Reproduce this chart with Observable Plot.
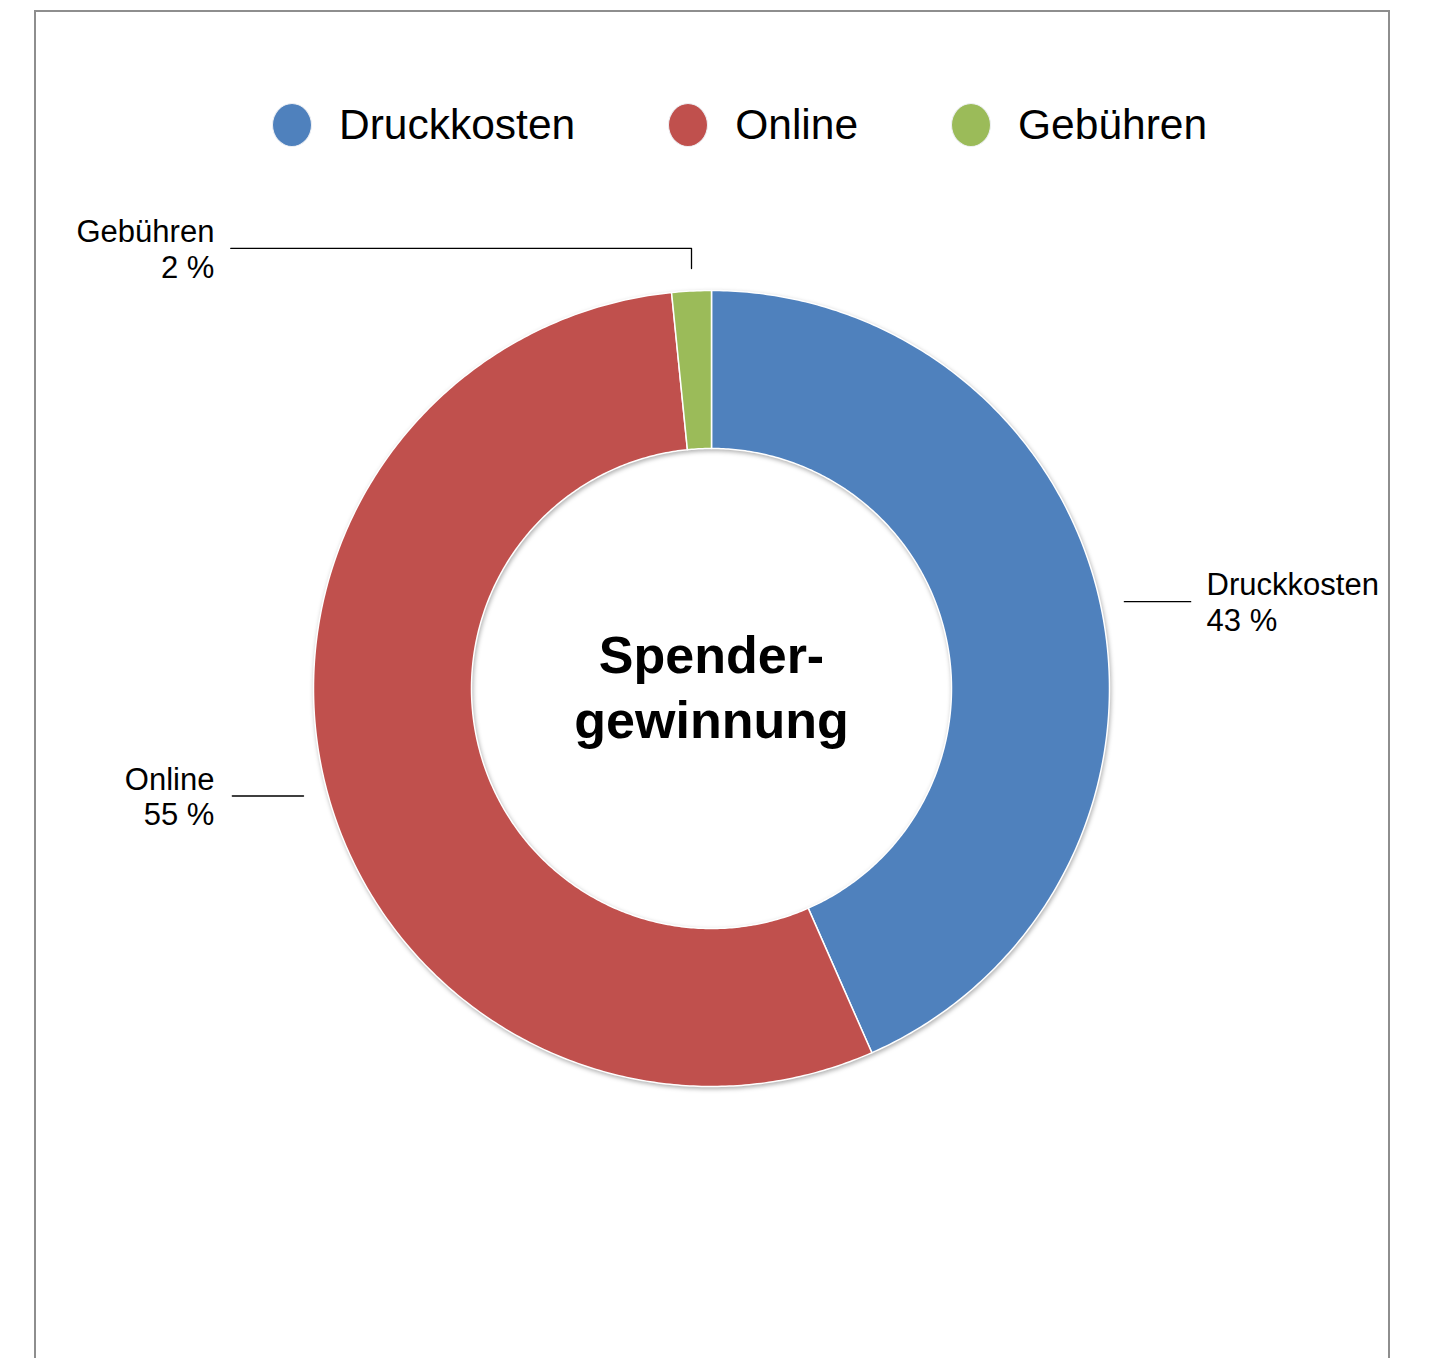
<!DOCTYPE html>
<html>
<head>
<meta charset="utf-8">
<script src="https://cdn.jsdelivr.net/npm/d3@7"></script>
<script src="https://cdn.jsdelivr.net/npm/@observablehq/plot@0.6"></script>
<style>
  body { margin: 0; background: #fff; font-family: "Liberation Sans", Arial, Helvetica, sans-serif; }
  #page { position: relative; width: 1430px; height: 1358px; overflow: hidden; }
  #frame { position: absolute; left: 34px; top: 10px; width: 1356px; height: 1420px; border: 2px solid #8e8e8e; box-sizing: border-box; }
  #chart { position: absolute; left: 0; top: 0; }
  #legend { position: absolute; left: 272px; top: 100px; display: flex; align-items: center; }
  .item { display: flex; align-items: center; margin-right: 93px; }
  .item:last-child { margin-right: 0; }
  .sw { width: 38px; height: 42px; border-radius: 50%; border: 1.5px solid #eef0f4; box-sizing: content-box; margin-right: 27px; }
  .lab { font-size: 42.5px; color: #000; line-height: 50px; }
</style>
</head>
<body>
<div id="page">
  <div id="chart"></div>
  <div id="frame"></div>
  <div id="legend"></div>
</div>
<script>
const categories = ["Druckkosten", "Online", "Gebühren"];
const values = [43.4, 55.0, 1.6];
const colors = ["#4F81BD", "#C0504D", "#9BBB59"];
const centerTitle = ["Spender-", "gewinnung"];

const innerRatio = 240 / 398;
const total = d3.sum(values);

// slice polygons in unit-circle coordinates (angle clockwise from top)
const slicePts = [];
const labelInfo = [];
let acc = 0;
categories.forEach((c, i) => {
  const a0 = acc / total * 2 * Math.PI;
  acc += values[i];
  const a1 = acc / total * 2 * Math.PI;
  const n = Math.max(4, Math.ceil((a1 - a0) / 0.01));
  const pts = [];
  for (let k = 0; k <= n; k++) { const a = a0 + (a1 - a0) * k / n; pts.push([Math.sin(a), Math.cos(a)]); }
  for (let k = n; k >= 0; k--) { const a = a0 + (a1 - a0) * k / n; pts.push([innerRatio * Math.sin(a), innerRatio * Math.cos(a)]); }
  pts.push(pts[0]);
  pts.forEach(p => slicePts.push({cat: c, x: p[0], y: p[1]}));
  labelInfo.push({cat: c, mid: (a0 + a1) / 2, pct: Math.round(values[i] / total * 100)});
});

// leader lines and label anchors
const leaderR = 1.06;
const leaderPts = [];
const labels = [];
labelInfo.forEach(d => {
  const s = Math.sin(d.mid), co = Math.cos(d.mid);
  const text = `${d.cat}\n${d.pct} %`;
  if (Math.abs(s) < 0.3) {
    leaderPts.push({cat: d.cat, x: s, y: 1.055});
    leaderPts.push({cat: d.cat, x: s, y: 1.106});
    leaderPts.push({cat: d.cat, x: -1.208, y: 1.106});
    labels.push({x: -1.249, y: 1.106, text, anchor: "end"});
  } else {
    const sg = Math.sign(s);
    const y = co * leaderR;
    leaderPts.push({cat: d.cat, x: s * leaderR, y});
    leaderPts.push({cat: d.cat, x: sg * 1.204, y});
    labels.push({x: sg > 0 ? 1.244 : -1.249, y, text, anchor: sg > 0 ? "start" : "end"});
  }
});

const plot = Plot.plot({
  width: 1430,
  height: 1358,
  margin: 0,
  x: {domain: [-1, 1], range: [313, 1109], axis: null},
  y: {domain: [-1, 1], range: [1086, 290], axis: null},
  color: {domain: categories, range: colors},
  style: {fontFamily: "'Liberation Sans', Arial, Helvetica, sans-serif", background: "transparent"},
  marks: [
    Plot.line(slicePts, {x: "x", y: "y", z: "cat", fill: "cat", stroke: "#ffffff", strokeWidth: 1.5, strokeLinejoin: "round"}),
    Plot.line(leaderPts, {x: "x", y: "y", z: "cat", stroke: "#000", strokeWidth: 1.3}),
    Plot.text(labels.filter(d => d.anchor === "start"), {x: "x", y: "y", text: "text", textAnchor: "start", fontSize: 31, lineHeight: 1.16, fill: "#000"}),
    Plot.text(labels.filter(d => d.anchor === "end"), {x: "x", y: "y", text: "text", textAnchor: "end", fontSize: 31, lineHeight: 1.16, fill: "#000"}),
    Plot.text([{x: 0, y: 0.01, t: centerTitle.join("\n")}], {x: "x", y: "y", text: "t", fontSize: 52, fontWeight: "bold", lineHeight: 1.25, fill: "#000"})
  ]
});
const sliceGroup = plot.querySelectorAll('g[aria-label="line"]')[0];
if (sliceGroup) sliceGroup.style.filter = "drop-shadow(1px 2px 2px rgba(0,0,0,0.3))";
document.getElementById("chart").appendChild(plot);

const legend = document.getElementById("legend");
categories.forEach((c, i) => {
  const item = document.createElement("div");
  item.className = "item";
  const sw = document.createElement("div");
  sw.className = "sw";
  sw.style.background = colors[i];
  const lab = document.createElement("span");
  lab.className = "lab";
  lab.textContent = c;
  item.appendChild(sw);
  item.appendChild(lab);
  legend.appendChild(item);
});
</script>
</body>
</html>
